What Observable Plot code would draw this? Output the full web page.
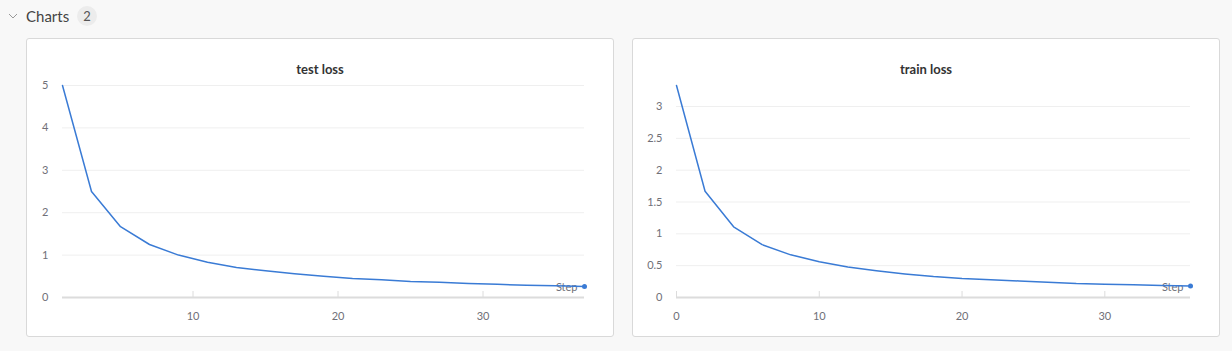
<!DOCTYPE html>
<html>
<head>
<meta charset="utf-8">
<script src="https://cdn.jsdelivr.net/npm/d3@7"></script>
<script src="https://cdn.jsdelivr.net/npm/@observablehq/plot@0.6"></script>
<style>
  html, body { margin: 0; padding: 0; }
  body { width: 1232px; height: 351px; background: #f8f8f8; position: relative; overflow: hidden;
         font-family: Lato, "Open Sans", "Noto Sans", sans-serif; }
  .hdr { position: absolute; left: 0; top: 0; height: 32px; }
  .chev { position: absolute; left: 8px; top: 13px; }
  .hdr-title { position: absolute; left: 26px; top: 6px; font-size: 15px; color: #444; line-height: 20px; }
  .badge { position: absolute; left: 77px; top: 6px; width: 20px; height: 20px; border-radius: 10px;
           background: #ececec; color: #555; font-size: 13px; line-height: 20px; text-align: center; }
  .panel { position: absolute; top: 38px; width: 588px; height: 299px; box-sizing: border-box;
           border: 1px solid #d9d9d9; border-radius: 3px; background: #fff; }
  .panel .title { position: absolute; left: 0; right: 0; top: 21px; text-align: center;
                  font-size: 13px; font-weight: bold; color: #333; line-height: 18px; }
  .panel .chart { position: absolute; left: 0; top: 0; }
  .panel svg { overflow: visible; }
</style>
</head>
<body>
<div class="hdr">
  <svg class="chev" width="10" height="7"><polyline points="1,1 5,5 9,1" fill="none" stroke="#999" stroke-width="1"/></svg>
  <div class="hdr-title">Charts</div>
  <div class="badge">2</div>
</div>
<div class="panel" id="p1" style="left:26px"><div class="title">test loss</div><div class="chart"></div></div>
<div class="panel" id="p2" style="left:632px"><div class="title">train loss</div><div class="chart"></div></div>
<script>
// ---- data ----
const testSteps = [1, 3, 5, 7, 9, 11, 13, 15, 17, 19, 21, 23, 25, 27, 29, 31, 33, 35, 37];
const testLoss  = [5.0, 2.5, 1.67, 1.25, 1.0, 0.83, 0.71, 0.63, 0.56, 0.5, 0.45, 0.42, 0.38, 0.36, 0.33, 0.31, 0.29, 0.28, 0.26];
const trainSteps = [0, 2, 4, 6, 8, 10, 12, 14, 16, 18, 20, 22, 24, 26, 28, 30, 32, 34, 36];
const trainLoss  = [3.33, 1.67, 1.11, 0.83, 0.67, 0.56, 0.48, 0.42, 0.37, 0.33, 0.30, 0.28, 0.26, 0.24, 0.22, 0.21, 0.20, 0.19, 0.18];
const testXTicks = [10, 20, 30];
const testYTicks = [0, 1, 2, 3, 4, 5];
const trainXTicks = [0, 10, 20, 30];
const trainYTicks = [0, 0.5, 1, 1.5, 2, 2.5, 3];
const xLabel = "Step";

const LINE = "#3a7bd5";
const LABEL = "#707078";
const W = 586, H = 297, MT = 46, MB = 39;

function lossChart(steps, loss, xTicks, yTicks, marginLeft) {
  const data = steps.map((s, i) => ({step: s, loss: loss[i]}));
  const innerH = H - MT - MB;
  return Plot.plot({
    width: W, height: H,
    marginTop: MT, marginBottom: MB, marginLeft, marginRight: 29,
    x: {domain: d3.extent(steps), axis: null},
    y: {domain: [0, d3.max(loss)], axis: null},
    style: {background: "transparent", fontFamily: "Lato, 'Open Sans', sans-serif", fontSize: "11px", overflow: "visible"},
    marks: [
      Plot.ruleY(yTicks.filter(d => d > 0), {y: d => d, stroke: "#efefef", strokeWidth: 1}),
      Plot.ruleY([0], {stroke: "#dcdcdc", strokeWidth: 2}),
      Plot.ruleX(xTicks, {x: d => d, stroke: "#dcdcdc", strokeWidth: 1, insetTop: innerH - 6}),
      Plot.text(xTicks, {x: d => d, text: d => String(d), frameAnchor: "bottom", lineAnchor: "middle", textAnchor: "middle", dy: 19, fill: LABEL, fontSize: 11}),
      Plot.text(yTicks, {y: d => d, text: d => String(d), frameAnchor: "left", textAnchor: "end", lineAnchor: "middle", dx: -14, fill: LABEL, fontSize: 11}),
      Plot.text([xLabel], {text: d => d, frameAnchor: "bottom-right", textAnchor: "end", lineAnchor: "middle", dx: -7, dy: -10, fill: LABEL, fontSize: 11}),
      Plot.line(data, {x: "step", y: "loss", stroke: LINE, strokeWidth: 1.5}),
      Plot.dot(data, Plot.selectLast({x: "step", y: "loss", r: 2.5, fill: LINE}))
    ]
  });
}

document.querySelector("#p1 .chart").append(lossChart(testSteps, testLoss, testXTicks, testYTicks, 35));
document.querySelector("#p2 .chart").append(lossChart(trainSteps, trainLoss, trainXTicks, trainYTicks, 43));
</script>
</body>
</html>
